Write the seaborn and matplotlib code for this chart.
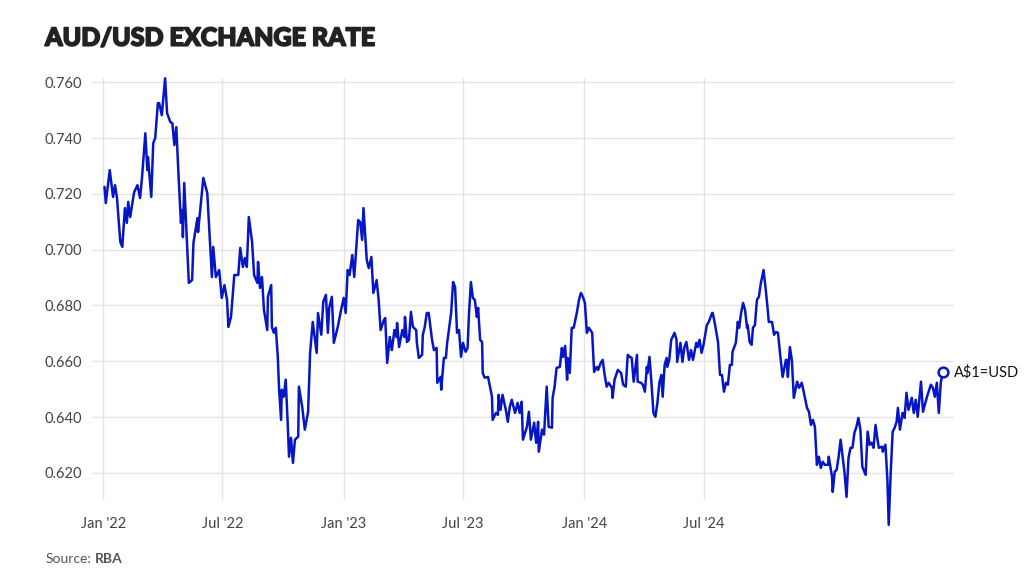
import pandas as pd
import matplotlib.pyplot as plt
import matplotlib.patheffects as pe
import seaborn as sns

# AUD/USD, RBA 4pm rates
dates_2022 = ['01-03', '01-05', '01-11', '01-16', '01-19', '01-22', '01-27', '01-30', '02-03', '02-06',
              '02-08', '02-11', '02-17', '02-22', '02-26', '03-01', '03-06', '03-09', '03-10', '03-15',
              '03-18', '03-21', '03-25', '03-27', '03-31', '04-05', '04-08', '04-13', '04-16', '04-19',
              '04-22', '04-25', '04-29', '05-01', '05-02', '05-04', '05-11', '05-16', '05-18', '05-24',
              '05-25', '05-30', '06-02', '06-08', '06-15', '06-17', '06-21', '06-26', '06-30', '07-04',
              '07-08', '07-10', '07-14', '07-19', '07-25', '07-28', '08-01', '08-04', '08-07', '08-10',
              '08-15', '08-18', '08-23', '08-24', '08-27', '08-30', '09-02', '09-07', '09-08', '09-13',
              '09-14', '09-17', '09-20', '09-23', '09-25', '09-28', '09-29', '10-02', '10-05', '10-08',
              '10-10', '10-13', '10-16', '10-19', '10-24', '10-25', '10-30', '11-03', '11-08', '11-11',
              '11-15', '11-21', '11-23', '11-28', '12-01', '12-05', '12-08', '12-10', '12-14', '12-17',
              '12-23', '12-28']
rates_2022 = [.7225, .7167, .7285, .7189, .7231, .7185, .7028, .7010, .7149, .7096,
              .7171, .7117, .7206, .7231, .7185, .7260, .7417, .7285, .7332, .7189,
              .7382, .7400, .7525, .7525, .7482, .7614, .7489, .7457, .7453, .7375,
              .7439, .7285, .7096, .7142, .7045, .7239, .6881, .6891, .7024, .7113,
              .7063, .7185, .7257, .7203, .6902, .7010, .6902, .6927, .6827, .6873,
              .6820, .6723, .6759, .6909, .6909, .7006, .6938, .6970, .6938, .7117,
              .7028, .6909, .6881, .6956, .6863, .6902, .6784, .6712, .6831, .6873,
              .6723, .6702, .6720, .6616, .6498, .6390, .6498, .6473, .6534, .6379,
              .6258, .6326, .6236, .6319, .6330, .6509, .6437, .6355, .6419, .6630,
              .6741, .6630, .6773, .6695, .6813, .6838, .6702, .6791, .6831, .6666,
              .6723, .6784]

dates_2023 = ['01-01', '01-04', '01-07', '01-10', '01-14', '01-17', '01-23', '01-26', '01-29', '01-31',
              '02-05', '02-08', '02-12', '02-15', '02-20', '02-23', '02-26', '03-03', '03-05', '03-08',
              '03-12', '03-15', '03-19', '03-22', '03-23', '03-26', '03-31', '04-03', '04-04', '04-07',
              '04-10', '04-13', '04-16', '04-21', '04-22', '04-25', '04-30', '05-01', '05-04', '05-07',
              '05-10', '05-15', '05-18', '05-22', '05-23', '05-28', '05-29', '06-02', '06-05', '06-07',
              '06-10', '06-13', '06-16', '06-19', '06-22', '06-25', '06-28', '07-01', '07-05', '07-08',
              '07-10', '07-13', '07-16', '07-19', '07-22', '07-24', '07-27', '07-30', '07-31', '08-03',
              '08-08', '08-11', '08-14', '08-15', '08-20', '08-23', '08-24', '08-27', '08-30', '09-04',
              '09-07', '09-10', '09-13', '09-18', '09-22', '09-25', '09-28', '09-30', '10-06', '10-09',
              '10-12', '10-17', '10-20', '10-23', '10-24', '10-29', '11-01', '11-04', '11-05', '11-08',
              '11-13', '11-14', '11-17', '11-20', '11-25', '11-28', '11-30', '12-03', '12-06', '12-07',
              '12-10', '12-13', '12-16', '12-21', '12-24', '12-27', '12-30']
rates_2023 = [.6827, .6773, .6927, .6909, .6981, .6902, .7106, .7099, .7035, .7149,
              .6963, .6934, .6974, .6845, .6891, .6820, .6712, .6748, .6755, .6594,
              .6687, .6640, .6712, .6687, .6737, .6651, .6712, .6687, .6759, .6669,
              .6677, .6777, .6723, .6712, .6666, .6612, .6623, .6694, .6723, .6773,
              .6773, .6677, .6640, .6648, .6523, .6544, .6498, .6612, .6612, .6666,
              .6720, .6773, .6884, .6866, .6702, .6712, .6616, .6666, .6634, .6648,
              .6766, .6884, .6827, .6820, .6759, .6791, .6677, .6669, .6558, .6541,
              .6544, .6509, .6473, .6390, .6415, .6408, .6480, .6426, .6480, .6426,
              .6383, .6437, .6462, .6415, .6451, .6415, .6455, .6319, .6365, .6419,
              .6319, .6380, .6308, .6383, .6276, .6355, .6337, .6462, .6509, .6365,
              .6362, .6469, .6509, .6576, .6580, .6648, .6616, .6655, .6534, .6612,
              .6558, .6720, .6720, .6777, .6820, .6845, .6831]

dates_2024 = ['01-02', '01-05', '01-08', '01-13', '01-16', '01-20', '01-22', '01-26', '01-29', '02-01',
              '02-04', '02-07', '02-12', '02-13', '02-16', '02-21', '02-26', '02-29', '03-04', '03-07',
              '03-10', '03-13', '03-16', '03-21', '03-22', '03-27', '03-30', '04-02', '04-05', '04-06',
              '04-09', '04-12', '04-15', '04-18', '04-21', '04-24', '04-27', '04-29', '05-02', '05-05',
              '05-06', '05-09', '05-12', '05-17', '05-20', '05-21', '05-26', '05-29', '06-01', '06-04',
              '06-08', '06-11', '06-14', '06-19', '06-21', '06-24', '06-27', '06-30', '07-05', '07-08',
              '07-13', '07-14', '07-17', '07-22', '07-25', '07-28', '07-31', '08-03', '08-06', '08-09',
              '08-12', '08-13', '08-18', '08-21', '08-23', '08-26', '08-29', '09-01', '09-04', '09-05',
              '09-08', '09-11', '09-13', '09-16', '09-19', '09-22', '09-25', '09-26', '09-29', '10-02',
              '10-05', '10-07', '10-12', '10-15', '10-18', '10-21', '10-24', '10-28', '11-02', '11-03',
              '11-05', '11-08', '11-11', '11-14', '11-19', '11-22', '11-26', '11-29', '12-04', '12-07',
              '12-10', '12-13', '12-16', '12-19', '12-22', '12-25', '12-28', '12-31']
rates_2024 = [.6809, .6702, .6720, .6702, .6562, .6580, .6569, .6594, .6605, .6551,
              .6509, .6523, .6505, .6469, .6534, .6569, .6558, .6516, .6509, .6623,
              .6616, .6612, .6527, .6623, .6527, .6523, .6516, .6491, .6580, .6558,
              .6616, .6523, .6415, .6401, .6451, .6523, .6551, .6473, .6587, .6612,
              .6580, .6605, .6677, .6702, .6677, .6598, .6666, .6598, .6651, .6669,
              .6605, .6640, .6605, .6666, .6651, .6677, .6630, .6659, .6730, .6741,
              .6773, .6773, .6737, .6669, .6551, .6551, .6491, .6523, .6516, .6587,
              .6587, .6634, .6666, .6741, .6720, .6773, .6809, .6784, .6720, .6730,
              .6669, .6659, .6720, .6730, .6820, .6831, .6881, .6891, .6927, .6866,
              .6795, .6741, .6741, .6695, .6705, .6702, .6630, .6544, .6605, .6605,
              .6544, .6651, .6605, .6469, .6527, .6505, .6523, .6491, .6433, .6419,
              .6372, .6390, .6365, .6229, .6258, .6218, .6240, .6229]

dates_2025 = ['01-05', '01-06', '01-11', '01-12', '01-15', '01-18', '01-21', '01-24', '01-27', '01-30',
              '02-02', '02-05', '02-08', '02-11', '02-14', '02-17', '02-20', '02-23', '02-26', '03-03',
              '03-06', '03-09', '03-12', '03-15', '03-18', '03-21', '03-23', '03-28', '03-29', '04-02',
              '04-05', '04-07', '04-10', '04-13', '04-16', '04-19', '04-21', '04-24', '04-28', '05-01',
              '05-04', '05-07', '05-12', '05-15', '05-18', '05-21', '05-26', '05-29', '06-02', '06-05',
              '06-10', '06-13', '06-16', '06-19', '06-22', '06-25', '06-28']
rates_2025 = [.6229, .6258, .6186, .6132, .6204, .6211, .6258, .6319, .6258, .6200,
              .6114, .6254, .6290, .6290, .6344, .6365, .6397, .6355, .6222, .6193,
              .6348, .6301, .6308, .6290, .6372, .6319, .6290, .6294, .6276, .6301,
              .6175, .6014, .6200, .6348, .6362, .6383, .6433, .6355, .6415, .6397,
              .6487, .6426, .6469, .6415, .6462, .6401, .6527, .6419, .6455, .6480,
              .6516, .6505, .6473, .6523, .6415, .6523, .6562]

tick_dates = ['2022-01-01', '2022-07-01', '2023-01-01', '2023-07-01', '2024-01-01', '2024-07-01']
tick_labels = ["Jan '22", "Jul '22", "Jan '23", "Jul '23", "Jan '24", "Jul '24"]
y_ticks = [0.620, 0.640, 0.660, 0.680, 0.700, 0.720, 0.740, 0.760]

frames = []
for year, d, r in [(2022, dates_2022, rates_2022), (2023, dates_2023, rates_2023),
                   (2024, dates_2024, rates_2024), (2025, dates_2025, rates_2025)]:
    frames.append(pd.DataFrame({'date': pd.to_datetime([f'{year}-{x}' for x in d]), 'rate': r}))
df = pd.concat(frames, ignore_index=True)

sns.set_style('white')
plt.rcParams['font.family'] = ['Lato', 'DejaVu Sans']

blue = '#0716c4'
fig = plt.figure(figsize=(10.24, 5.88), dpi=100)
ax = fig.add_axes([0.0898, 0.1497, 0.8418, 0.7176])

sns.lineplot(data=df, x='date', y='rate', ax=ax, color=blue, linewidth=1.8, clip_on=False)

last = df.iloc[-1]
ax.plot(last['date'], last['rate'], 'o', ms=7, mfc='white', mec=blue, mew=1.8, clip_on=False, zorder=5)
ax.annotate('A$1=USD', (last['date'], last['rate']), xytext=(8, 0), textcoords='offset points',
            va='center', ha='left', fontsize=10.5, color='#111111', annotation_clip=False)

ax.set_xlim(pd.Timestamp('2021-12-15'), pd.Timestamp('2025-07-15'))
ax.set_ylim(0.6103, 0.7615)
ax.set_xticks(pd.to_datetime(tick_dates))
ax.set_xticklabels(tick_labels)
ax.set_yticks(y_ticks)
ax.set_yticklabels([f'{v:.3f}' for v in y_ticks])
ax.set_xlabel('')
ax.set_ylabel('')
ax.grid(True, color='#e4e4e4', linewidth=1)
ax.set_axisbelow(True)
for s in ax.spines.values():
    s.set_visible(False)
ax.tick_params(axis='x', length=0, pad=12, labelsize=10.5, labelcolor='#444444')
ax.tick_params(axis='y', length=0, pad=7, labelsize=10.5, labelcolor='#444444')

title = fig.text(0.044, 0.935, 'AUD/USD EXCHANGE RATE', fontsize=18, fontweight='black',
                 color='#222222', va='center')
title.set_path_effects([pe.withStroke(linewidth=1.2, foreground='#222222')])
fig.text(0.044, 0.049, 'Source:', fontsize=10, color='#555555', va='center')
fig.text(0.0925, 0.049, 'RBA', fontsize=10, color='#555555', fontweight='bold', va='center')

plt.savefig('out.png', dpi=100)
plt.close()
